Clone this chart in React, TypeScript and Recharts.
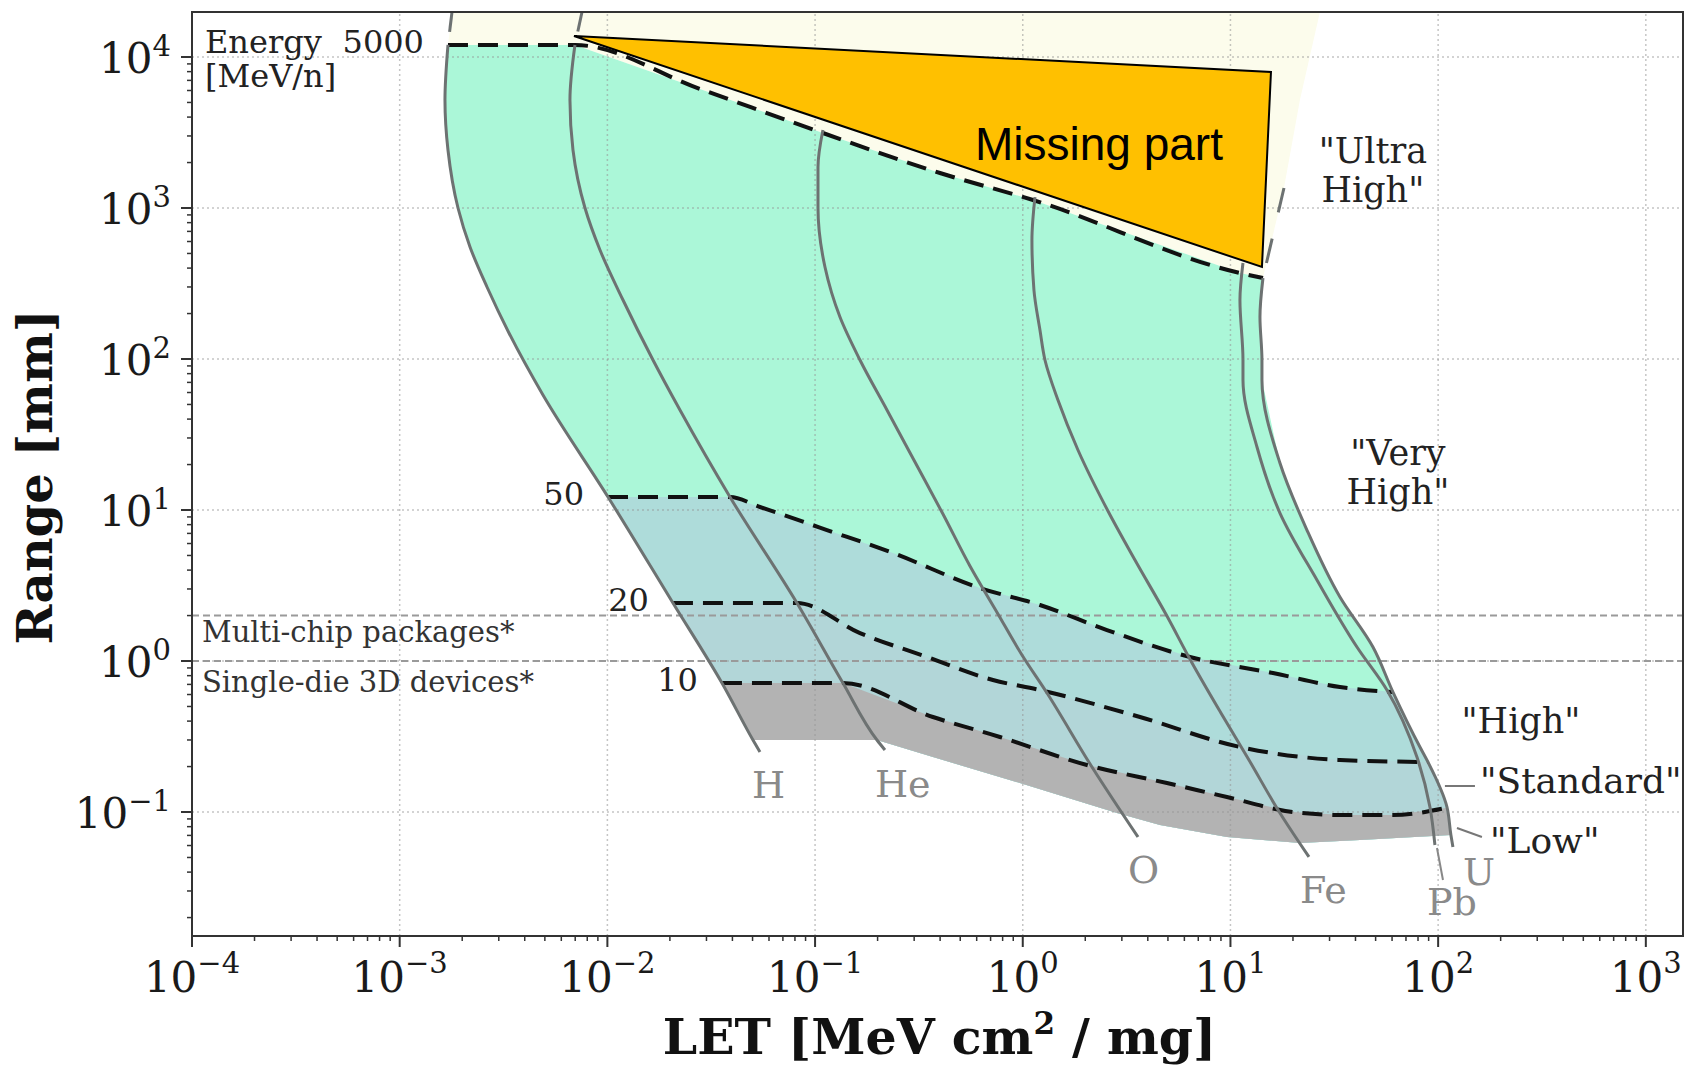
import React from "react";
import { ScatterChart, Scatter, XAxis, YAxis } from "recharts";

type Pt = { x: number; y: number };
type Tag = { x: number; y: number; text: string };

const SERIF = "DejaVu Serif";
const X_DOMAIN: [number, number] = [1e-4, 1510];
const Y_DOMAIN: [number, number] = [0.0151, 19860];

const xMajor = [1e-4, 1e-3, 1e-2, 1e-1, 1, 10, 100, 1000];
const yMajor = [1e-1, 1, 10, 100, 1000, 10000];
const minorSteps = [2, 3, 4, 5, 6, 7, 8, 9];
const xTicks = [...xMajor, ...xMajor.slice(0, -1).flatMap((m) => minorSteps.map((s) => m * s))];
const yTicks = [...yMajor, ...[0.01, ...yMajor.slice(0, -1)].flatMap((m) => minorSteps.map((s) => m * s))];

// ion range curves (LET, range in mm)
const ionH: Pt[] = [
  { x: 1.708e-3, y: 12010 }, { x: 1.652e-3, y: 5191 }, { x: 1.708e-3, y: 2422 }, { x: 1.909e-3, y: 1000 },
  { x: 2.181e-3, y: 551.7 }, { x: 2.633e-3, y: 299.8 }, { x: 3.359e-3, y: 148.7 }, { x: 4.897e-3, y: 57.75 },
  { x: 1.007e-2, y: 12.2 }, { x: 2.069e-2, y: 2.422 }, { x: 3.562e-2, y: 0.715 }, { x: 5.023e-2, y: 0.2997 },
  { x: 5.428e-2, y: 0.2496 },
];
const ionHe: Pt[] = [
  { x: 6.98e-3, y: 12010 }, { x: 6.604e-3, y: 5191 }, { x: 6.829e-3, y: 2422 }, { x: 7.803e-3, y: 1000 },
  { x: 9.214e-3, y: 527 }, { x: 1.189e-2, y: 245.9 }, { x: 1.658e-2, y: 98.5 }, { x: 2.236e-2, y: 45.95 },
  { x: 3.893e-2, y: 12.2 }, { x: 8.18e-2, y: 2.422 }, { x: 0.1362, y: 0.715 }, { x: 0.1986, y: 0.2997 },
  { x: 0.217, y: 0.2574 },
];
const ionO: Pt[] = [
  { x: 0.1091, y: 3287 }, { x: 0.1033, y: 1868 }, { x: 0.1033, y: 1000 }, { x: 0.1116, y: 406.7 },
  { x: 0.1318, y: 189.7 }, { x: 0.1645, y: 98.5 }, { x: 0.2219, y: 45.95 }, { x: 0.3027, y: 20.79 },
  { x: 0.4128, y: 9.408 }, { x: 0.5568, y: 4.257 }, { x: 0.7596, y: 2.048 }, { x: 0.9913, y: 1.096 },
  { x: 1.308, y: 0.614 }, { x: 2.154, y: 0.1986 }, { x: 3.587, y: 0.0683 },
];
const ionFe: Pt[] = [
  { x: 1.145, y: 1182 }, { x: 1.107, y: 614 }, { x: 1.132, y: 286.4 }, { x: 1.21, y: 155.6 },
  { x: 1.279, y: 98.5 }, { x: 1.477, y: 53.5 }, { x: 1.844, y: 24.97 }, { x: 2.572, y: 9.85 },
  { x: 3.469, y: 4.665 }, { x: 4.946, y: 1.986 }, { x: 6.454, y: 1.0 }, { x: 9.0, y: 0.4525 },
  { x: 12.28, y: 0.2211 }, { x: 17.31, y: 0.0985 }, { x: 23.88, y: 0.0504 },
];
const ionPb: Pt[] = [
  { x: 11.49, y: 432.3 }, { x: 11.11, y: 245.9 }, { x: 11.49, y: 98.5 }, { x: 11.49, y: 72.6 },
  { x: 13.42, y: 26.14 }, { x: 17.31, y: 9.552 }, { x: 26.09, y: 3.439 }, { x: 40.65, y: 1.238 },
  { x: 56.68, y: 0.6425 }, { x: 79.05, y: 0.2313 }, { x: 91.3, y: 0.1079 }, { x: 96.5, y: 0.0605 },
];
const ionU: Pt[] = [
  { x: 14.34, y: 343.9 }, { x: 13.87, y: 189.7 }, { x: 14.18, y: 98.5 }, { x: 14.18, y: 72.6 },
  { x: 17.31, y: 20.48 }, { x: 23.35, y: 7.37 }, { x: 33.67, y: 2.654 }, { x: 48.54, y: 1.238 },
  { x: 60.6, y: 0.6232 }, { x: 81.73, y: 0.2695 }, { x: 89.3, y: 0.2144 }, { x: 110.3, y: 0.1079 },
  { x: 115.2, y: 0.0704 }, { x: 117.8, y: 0.0586 },
];
// dashed continuations above 5000 MeV/n
const topH: Pt[] = [{ x: 1.786e-3, y: 19860 }, { x: 1.708e-3, y: 12010 }];
const topHe: Pt[] = [{ x: 7.547e-3, y: 19860 }, { x: 6.98e-3, y: 12010 }];
const topU: Pt[] = [{ x: 18.1, y: 1357 }, { x: 14.34, y: 343.9 }];

// energy contours [MeV/n]
const e5000: Pt[] = [
  { x: 1.708e-3, y: 12010 }, { x: 6.98e-3, y: 12010 }, { x: 2.791e-2, y: 6140 }, { x: 0.1091, y: 3138 },
  { x: 0.3994, y: 1705 }, { x: 1.12, y: 1130 }, { x: 11.11, y: 371.1 }, { x: 14.34, y: 343.9 },
];
const e50: Pt[] = [
  { x: 1.007e-2, y: 12.2 }, { x: 3.893e-2, y: 12.2 }, { x: 5.428e-2, y: 10.47 }, { x: 0.1141, y: 7.37 },
  { x: 0.2372, y: 5.19 }, { x: 0.6222, y: 3.044 }, { x: 1.21, y: 2.349 }, { x: 2.543, y: 1.604 },
  { x: 6.385, y: 1.063 }, { x: 16.02, y: 0.8326 }, { x: 33.67, y: 0.6727 }, { x: 60.6, y: 0.6232 },
];
const e20: Pt[] = [
  { x: 2.069e-2, y: 2.422 }, { x: 8.18e-2, y: 2.422 }, { x: 0.1645, y: 1.532 }, { x: 0.3457, y: 1.063 },
  { x: 0.7185, y: 0.7483 }, { x: 1.21, y: 0.6425 }, { x: 3.667, y: 0.4258 }, { x: 11.11, y: 0.2695 },
  { x: 33.67, y: 0.2211 }, { x: 89.3, y: 0.2144 },
];
const e10: Pt[] = [
  { x: 3.562e-2, y: 0.715 }, { x: 0.1362, y: 0.715 }, { x: 0.3695, y: 0.4258 }, { x: 0.7765, y: 0.3139 },
  { x: 2.038, y: 0.2048 }, { x: 4.946, y: 0.1556 }, { x: 9.62, y: 0.1257 }, { x: 20.0, y: 0.1 },
  { x: 34.8, y: 0.0955 }, { x: 60.6, y: 0.0955 }, { x: 109.0, y: 0.1063 },
];
const grayBottom: Pt[] = [
  { x: 5.023e-2, y: 0.2997 }, { x: 0.1986, y: 0.2997 }, { x: 0.3695, y: 0.2313 }, { x: 0.9694, y: 0.1556 },
  { x: 2.841, y: 0.0985 }, { x: 4.577, y: 0.08203 }, { x: 9.62, y: 0.0683 }, { x: 21.6, y: 0.0623 },
  { x: 42.03, y: 0.0653 }, { x: 115.2, y: 0.0704 },
];
const creamEdge: Pt[] = [{ x: 18.1, y: 1357 }, { x: 21.6, y: 5191 }, { x: 26.97, y: 19860 }];
const missingPart: Pt[] = [{ x: 6.906e-3, y: 13770 }, { x: 15.67, y: 7957 }, { x: 14.18, y: 406.7 }];
const deviceLimits = [2, 1];

const leaderStandard: Pt[] = [{ x: 107.8, y: 0.1487 }, { x: 150.4, y: 0.1487 }];
const leaderLow: Pt[] = [{ x: 123.2, y: 0.07834 }, { x: 162.5, y: 0.0683 }];
const leaderPb: Pt[] = [{ x: 98.7, y: 0.0578 }, { x: 105.5, y: 0.03545 }];

const energyTitle: Tag[] = [
  { x: 1.155e-4, y: 10630, text: "Energy" },
  { x: 1.155e-4, y: 6330, text: "[MeV/n]" },
];
const energyTags: Tag[] = [
  { ...e5000[0], text: "5000" },
  { ...e50[0], text: "50" },
  { ...e20[0], text: "20" },
  { ...e10[0], text: "10" },
];
const zoneTagsCentered: Tag[] = [
  { x: 48.5, y: 1986, text: '"Ultra\nHigh"' },
  { x: 64.06, y: 19.86, text: '"Very\nHigh"' },
  { x: 250.5, y: 0.3337, text: '"High"' },
];
const zoneTagsLeft: Tag[] = [
  { x: 158.9, y: 0.1336, text: '"Standard"' },
  { x: 177.6, y: 0.05354, text: '"Low"' },
];
const ionTags: Tag[] = [
  { x: 4.968e-2, y: 0.1238, text: "H" },
  { x: 0.1943, y: 0.1257, text: "He" },
  { x: 3.21, y: 0.03387, text: "O" },
  { x: 21.6, y: 0.02496, text: "Fe" },
  { x: 88.3, y: 0.02079, text: "Pb" },
  { x: 131.6, y: 0.03286, text: "U" },
];
const deviceTags: Tag[] = [
  { x: 1.117e-4, y: 1.336, text: "Multi-chip packages*" },
  { x: 1.117e-4, y: 0.6232, text: "Single-die 3D devices*" },
];
const missingTag: Tag[] = [{ x: 0.5888, y: 2079, text: "Missing part" }];

const CURVE = "#6d7272";
const MINT = "#abf7d8";
const TEAL = "#aedcda";
const TEAL2 = "#b2d6d8";
const GRAYBAND = "#b3b3b3";
const CREAM = "#fcfcec";

const seg = (curve: Pt[], hi: number, lo: number) =>
  curve.filter((p) => p.y <= hi * 1.0001 && p.y >= lo * 0.9999);
const last = (a: Pt[]) => a[a.length - 1];

const bandFrom = (top: Pt[]) => [
  ...top,
  ...seg(ionU, last(top).y, last(grayBottom).y),
  ...[...grayBottom].reverse(),
  ...seg(ionH, top[0].y, grayBottom[0].y).reverse(),
];
const mintArea = [
  ...seg(ionH, e5000[0].y, grayBottom[0].y),
  ...grayBottom,
  ...seg(ionU, last(e5000).y, last(grayBottom).y).reverse(),
  ...[...e5000].reverse(),
];
const creamArea = [topH[0], ...e5000, ...creamEdge];

const noDot = () => <g />;

const fmtExp = (e: number) => (e < 0 ? `\u2212${-e}` : `${e}`);
const isMajor = (v: number) => Math.abs(Math.log10(v) - Math.round(Math.log10(v))) < 1e-6;

const XTick = (props: any) => {
  const { x, y, payload } = props;
  const v = payload.value;
  const major = isMajor(v);
  return (
    <g>
      <line x1={x} x2={x} y1={y} y2={y + (major ? 11 : 5)} stroke="#333" strokeWidth={major ? 2 : 1.5} />
      {major && (
        <text x={x} y={y + 56} textAnchor="middle" fontFamily={SERIF} fontSize={42} fill="#1a1a1a">
          10
          <tspan dy={-19} fontSize={29}>{fmtExp(Math.round(Math.log10(v)))}</tspan>
        </text>
      )}
    </g>
  );
};

const YTick = (props: any) => {
  const { x, y, payload } = props;
  const v = payload.value;
  const major = isMajor(v);
  return (
    <g>
      <line x1={x - (major ? 11 : 5)} x2={x} y1={y} y2={y} stroke="#333" strokeWidth={major ? 2 : 1.5} />
      {major && (
        <text x={x - 21} y={y + 16} textAnchor="end" fontFamily={SERIF} fontSize={42} fill="#1a1a1a">
          10
          <tspan dy={-17} fontSize={29}>{fmtExp(Math.round(Math.log10(v)))}</tspan>
        </text>
      )}
    </g>
  );
};

const XTitle = (props: any) => {
  const { x, y, width } = props.viewBox;
  return (
    <text x={x + width / 2 + 2} y={y + 118} textAnchor="middle" fontFamily={SERIF} fontWeight="bold" fontSize={49} fill="#111">
      LET [MeV cm
      <tspan dy={-20} fontSize={31}>2</tspan>
      <tspan dy={20}> / mg]</tspan>
    </text>
  );
};

const YTitle = (props: any) => {
  const { x, y, height } = props.viewBox;
  const cx = x + 52;
  const cy = y + height / 2 + 3;
  return (
    <text transform={`rotate(-90 ${cx} ${cy})`} x={cx} y={cy} textAnchor="middle" fontFamily={SERIF} fontWeight="bold" fontSize={48} fill="#111">
      Range [mm]
    </text>
  );
};

const textShape =
  (style: any, dx = 0, dy = 0, gap = 0) =>
  (props: any) => {
    const lines = String(props.payload.text).split("\n");
    const tx = props.cx + dx;
    return (
      <text x={tx} y={props.cy + dy} {...style}>
        {lines.map((l, i) => (
          <tspan key={i} x={tx} dy={i === 0 ? 0 : gap}>
            {l}
          </tspan>
        ))}
      </text>
    );
  };

const polySeries = (key: string, data: Pt[], fill: string, stroke = "none", strokeWidth = 0) => (
  <Scatter
    key={key}
    data={data}
    isAnimationActive={false}
    fill="none"
    shape={noDot}
    lineType="joint"
    lineJointType="linearClosed"
    line={{ fill, stroke, strokeWidth }}
  />
);

const pathSeries = (key: string, data: Pt[], stroke: string, strokeWidth: number, dash?: string, joint: any = "linear") => (
  <Scatter
    key={key}
    data={data}
    isAnimationActive={false}
    fill="none"
    shape={noDot}
    lineType="joint"
    lineJointType={joint}
    line={{ stroke, strokeWidth, strokeDasharray: dash, fill: "none" }}
  />
);

const textSeries = (key: string, data: Tag[], shape: any) => (
  <Scatter key={key} data={data} isAnimationActive={false} shape={shape} />
);

const frame: Pt[] = [
  { x: X_DOMAIN[0], y: Y_DOMAIN[0] },
  { x: X_DOMAIN[1], y: Y_DOMAIN[0] },
  { x: X_DOMAIN[1], y: Y_DOMAIN[1] },
  { x: X_DOMAIN[0], y: Y_DOMAIN[1] },
];

export default function App() {
  return (
    <div style={{ width: 1686, height: 1065, background: "#fff" }}>
      <style>{"body{margin:0;overflow:hidden;background:#fff}"}</style>
      <ScatterChart width={1686} height={1065} margin={{ top: 12, right: 3, bottom: 0, left: 0 }}>
        <XAxis
          type="number"
          dataKey="x"
          scale="log"
          domain={X_DOMAIN}
          ticks={xTicks}
          interval={0}
          tick={<XTick />}
          tickLine={false}
          axisLine={false}
          tickSize={0}
          tickMargin={0}
          height={129}
          label={<XTitle />}
        />
        <YAxis
          type="number"
          dataKey="y"
          scale="log"
          domain={Y_DOMAIN}
          ticks={yTicks}
          interval={0}
          tick={<YTick />}
          tickLine={false}
          axisLine={false}
          tickSize={0}
          tickMargin={0}
          width={192}
          label={<YTitle />}
        />

        {polySeries("cream", creamArea, CREAM)}
        {polySeries("mint", mintArea, MINT)}
        {polySeries("band50", bandFrom(e50), TEAL)}
        {polySeries("band20", bandFrom(e20), TEAL2)}
        {polySeries("band10", bandFrom(e10), GRAYBAND)}

        {xMajor.slice(1).map((x) =>
          pathSeries(`gx${x}`, [{ x, y: Y_DOMAIN[0] }, { x, y: Y_DOMAIN[1] }], "rgba(150,150,150,0.55)", 1.5, "2 3")
        )}
        {yMajor.map((y) =>
          pathSeries(`gy${y}`, [{ x: X_DOMAIN[0], y }, { x: X_DOMAIN[1], y }], "rgba(150,150,150,0.55)", 1.5, "2 3")
        )}
        {deviceLimits.map((y) =>
          pathSeries(`dev${y}`, [{ x: X_DOMAIN[0], y }, { x: X_DOMAIN[1], y }], "#9a9a9a", 2, "7 4")
        )}

        {pathSeries("e5000", e5000, "#111", 4, "20 10", "monotoneX")}
        {pathSeries("e50", e50, "#111", 4, "20 10", "monotoneX")}
        {pathSeries("e20", e20, "#111", 4, "20 10", "monotoneX")}
        {pathSeries("e10", e10, "#111", 4, "20 10", "monotoneX")}

        {pathSeries("H", ionH, CURVE, 3, undefined, "monotoneY")}
        {pathSeries("He", ionHe, CURVE, 3, undefined, "monotoneY")}
        {pathSeries("O", ionO, CURVE, 3, undefined, "monotoneY")}
        {pathSeries("Fe", ionFe, CURVE, 3, undefined, "monotoneY")}
        {pathSeries("Pb", ionPb, CURVE, 3, undefined, "monotoneY")}
        {pathSeries("U", ionU, CURVE, 3, undefined, "monotoneY")}
        {pathSeries("topH", topH, CURVE, 3, "20 14")}
        {pathSeries("topHe", topHe, CURVE, 3, "20 14")}
        {pathSeries("topU", topU, CURVE, 3, "25 27")}
        {pathSeries("leadPb", leaderPb, "#888", 2)}
        {pathSeries("leadStd", leaderStandard, "#777", 2)}
        {pathSeries("leadLow", leaderLow, "#777", 2)}

        {polySeries("missing", missingPart, "#ffc000", "#000", 2)}
        {polySeries("frame", frame, "none", "#333", 2)}

        {textSeries("energyTitle", energyTitle, textShape({ fontFamily: SERIF, fontSize: 32, fill: "#222" }))}
        {textSeries("energyTags", energyTags, textShape({ fontFamily: SERIF, fontSize: 32, fill: "#222", textAnchor: "end" }, -24, 8))}
        {textSeries("zoneC", zoneTagsCentered, textShape({ fontFamily: SERIF, fontSize: 35, fill: "#222", textAnchor: "middle" }, 0, 0, 39))}
        {textSeries("zoneL", zoneTagsLeft, textShape({ fontFamily: SERIF, fontSize: 36, fill: "#222" }))}
        {textSeries("ions", ionTags, textShape({ fontFamily: SERIF, fontSize: 38, fill: "#8a8a8a" }))}
        {textSeries("devices", deviceTags, textShape({ fontFamily: SERIF, fontSize: 29, fill: "#333" }))}
        {textSeries("missingTag", missingTag, textShape({ fontFamily: "Liberation Sans", fontSize: 46, fill: "#000" }))}
      </ScatterChart>
    </div>
  );
}
